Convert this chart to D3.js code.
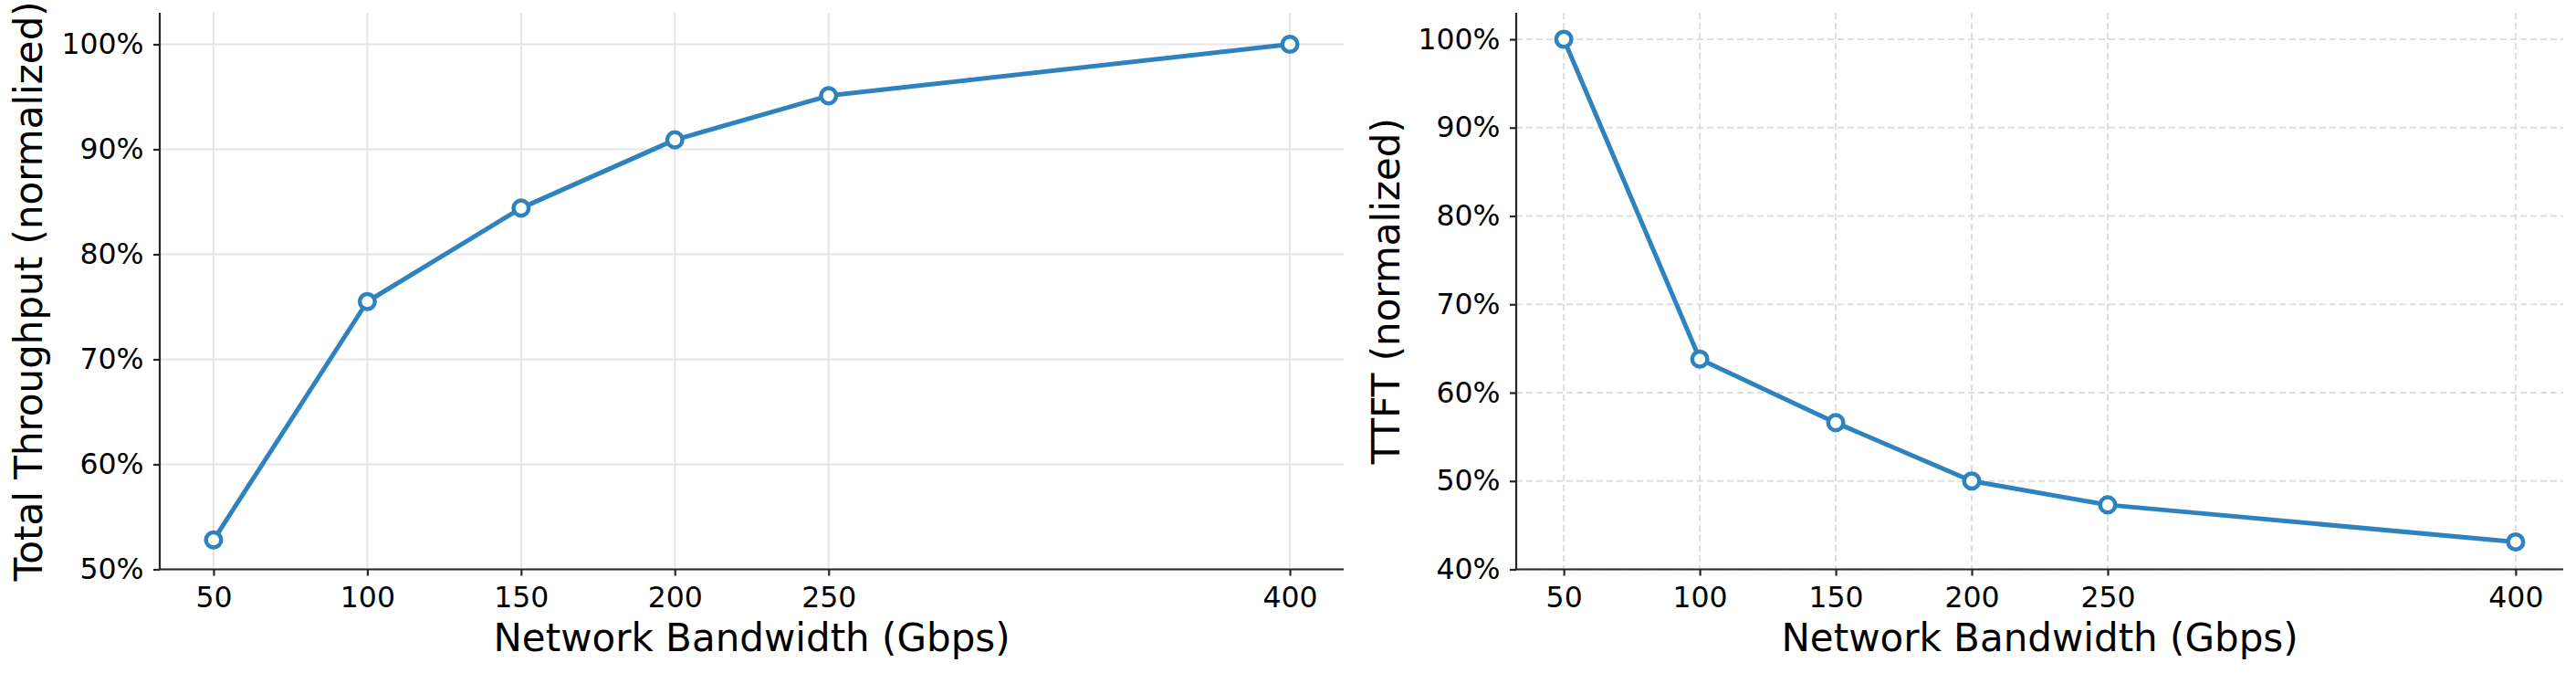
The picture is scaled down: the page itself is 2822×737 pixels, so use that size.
<!DOCTYPE html>
<html>
<head>
<meta charset="utf-8">
<script src="https://cdn.jsdelivr.net/npm/d3@7"></script>
<style>
  html, body { margin: 0; padding: 0; background: #fff; }
  svg { display: block; font-family: "DejaVu Sans", sans-serif; }
  .axis path, .axis line { stroke: #262626; stroke-width: 2.2; }
  .axis text { font-size: 31.5px; fill: #000; font-family: "DejaVu Sans", sans-serif; }
  .axisLabel { font-size: 42px; fill: #000; }
</style>
</head>
<body>
<div id="chart"></div>
<script>
/* ===== Data ===== */
const bandwidth = [50, 100, 150, 200, 250, 400];
const throughput = [52.8, 75.5, 84.4, 90.9, 95.1, 100];
const ttft = [100, 63.8, 56.6, 50.0, 47.3, 43.1];
const throughputTicks = [50, 60, 70, 80, 90, 100];
const ttftTicks = [40, 50, 60, 70, 80, 90, 100];

const W = 2822, H = 737;
const lineColor = "#2e83bf";

const svg = d3.select("#chart").append("svg")
  .attr("width", W).attr("height", H);
svg.append("rect").attr("width", W).attr("height", H).attr("fill", "#fff");

/* ===== One panel ===== */
function drawPanel(opts) {
  const { left, right, top, bottom, yDomain, yTicks, values, yLabel, yLabelX, dashed } = opts;

  const x = d3.scaleLinear().domain([32.5, 417.5]).range([left, right]);
  const y = d3.scaleLinear().domain(yDomain).range([bottom, top]);

  const g = svg.append("g");

  // grid
  const grid = g.append("g")
    .attr("stroke", dashed ? "#dedede" : "#e6e6e6")
    .attr("stroke-width", 2)
    .attr("stroke-dasharray", dashed ? "7,4" : null);
  grid.selectAll("line.gx").data(bandwidth).join("line")
    .attr("class", "gx")
    .attr("x1", d => x(d)).attr("x2", d => x(d))
    .attr("y1", top).attr("y2", bottom);
  grid.selectAll("line.gy").data(yTicks).join("line")
    .attr("class", "gy")
    .attr("x1", left).attr("x2", right)
    .attr("y1", d => y(d)).attr("y2", d => y(d));

  // axes
  g.append("g")
    .attr("class", "axis")
    .attr("transform", `translate(0,${bottom})`)
    .call(d3.axisBottom(x).tickValues(bandwidth).tickSize(7).tickPadding(12.5).tickSizeOuter(0))
    .call(a => a.select(".domain").attr("d", `M${left},0H${right}`));

  g.append("g")
    .attr("class", "axis")
    .attr("transform", `translate(${left},0)`)
    .call(d3.axisLeft(y).tickValues(yTicks).tickSize(7).tickPadding(10.5).tickSizeOuter(0)
      .tickFormat(d => d + "%"))
    .call(a => a.select(".domain").attr("d", `M0,${top}V${bottom}`));

  // line + markers
  const pts = bandwidth.map((b, i) => [b, values[i]]);
  g.append("path")
    .datum(pts)
    .attr("fill", "none")
    .attr("stroke", lineColor)
    .attr("stroke-width", 5)
    .attr("stroke-linejoin", "round")
    .attr("d", d3.line().x(d => x(d[0])).y(d => y(d[1])));

  g.selectAll("circle.pt").data(pts).join("circle")
    .attr("class", "pt")
    .attr("cx", d => x(d[0])).attr("cy", d => y(d[1]))
    .attr("r", 8.3)
    .attr("fill", "#fff")
    .attr("stroke", lineColor)
    .attr("stroke-width", 4.5);

  // labels
  g.append("text")
    .attr("class", "axisLabel")
    .attr("text-anchor", "middle")
    .attr("x", (left + right) / 2)
    .attr("y", 713)
    .text("Network Bandwidth (Gbps)");

  g.append("text")
    .attr("class", "axisLabel")
    .attr("text-anchor", "middle")
    .attr("transform", `translate(${yLabelX},${(top + bottom) / 2}) rotate(-90)`)
    .text(yLabel);
}

drawPanel({
  left: 175, right: 1472, top: 14, bottom: 623.5,
  yDomain: [50, 103], yTicks: throughputTicks, values: throughput,
  yLabel: "Total Throughput (normalized)", yLabelX: 46, dashed: false
});

drawPanel({
  left: 1661, right: 2808, top: 14, bottom: 623.5,
  yDomain: [40, 103], yTicks: ttftTicks, values: ttft,
  yLabel: "TTFT (normalized)", yLabelX: 1533, dashed: true
});
</script>
</body>
</html>
